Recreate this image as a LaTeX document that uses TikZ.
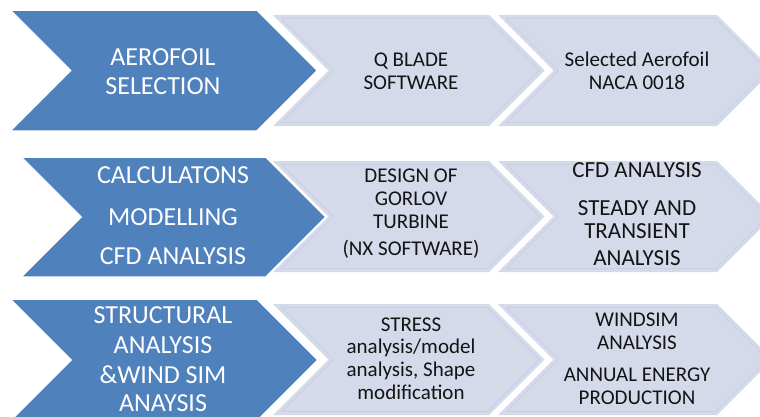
\documentclass[tikz,border=0pt]{standalone}
\usepackage{fontspec}
\setmainfont{Carlito}
\definecolor{stepblue}{HTML}{4F81BD}
\definecolor{steplight}{HTML}{D4DAEA}
\definecolor{stepedge}{HTML}{C9D0E2}
\begin{document}
\begin{tikzpicture}[x=1pt,y=-1pt,
  % 45-degree chevron: left x, shoulder x, top y, bottom y
  chev/.style n args={4}{insert path={(#1,#3) -- (#2,#3)
      -- ({#2+(#4-#3)/2},{(#3+#4)/2}) -- (#2,#4) -- (#1,#4)
      -- ({#1+(#4-#3)/2},{(#3+#4)/2}) -- cycle}},
  % the same chevron, inset by 3.5 units
  chevin/.style n args={4}{insert path={({#1+8.45},{#3+3.5}) -- ({#2-1.45},{#3+3.5})
      -- ({#2+(#4-#3)/2-4.95},{(#3+#4)/2}) -- ({#2-1.45},{#4-3.5}) -- ({#1+8.45},{#4-3.5})
      -- ({#1+(#4-#3)/2+4.95},{(#3+#4)/2}) -- cycle}},
  bluechev/.style={fill=stepblue, draw=white, line width=1.5pt, line join=miter},
  lightchev/.style={fill=steplight},
  lightedge/.style={draw=stepedge, line width=0.7pt},
  headtxt/.style={font=\fontsize{26}{30}\selectfont, text=white, anchor=base, inner sep=0pt},
  bodytxt/.style={font=\fontsize{21}{24}\selectfont, text=black!92, anchor=base, inner sep=0pt},
  bigtxt/.style={font=\fontsize{23}{26}\selectfont, text=black!92, anchor=base, inner sep=0pt}
]
\useasboundingbox (0,0) rectangle (760,416);
\clip (0,0) rectangle (760,416);

% light step chevrons
\foreach \t/\b in {15/126, 161/272, 304/415} {
  \fill[lightchev, chev={273}{489}{\t}{\b}];
  \draw[lightedge, chevin={273}{489}{\t}{\b}];
  \fill[lightchev, chev={498}{717}{\t}{\b}];
  \draw[lightedge, chevin={498}{717}{\t}{\b}];
}

% blue stage chevrons
\path[bluechev, chev={10}{257}{10}{131}];
\path[bluechev, chev={21}{266}{157}{277}];
\path[bluechev, chev={10}{257}{299}{421}];

% stage 1
\node[headtxt] (s1a) at (163,65) {AEROFOIL};
\node[headtxt] (s1b) at (163,94) {SELECTION};
\node[bodytxt] (q1a) at (411,66) {Q BLADE};
\node[bodytxt] (q1b) at (411,89) {SOFTWARE};
\node[bodytxt] (n1a) at (637,66) {Selected Aerofoil};
\node[bodytxt] (n1b) at (637,89) {NACA 0018};

% stage 2
\node[headtxt] (s2a) at (173,183) {CALCULATONS};
\node[headtxt] (s2b) at (173,225) {MODELLING};
\node[headtxt] (s2c) at (173,264) {CFD ANALYSIS};
\node[bodytxt] (d2a) at (411,182) {DESIGN OF};
\node[bodytxt] (d2b) at (411,205) {GORLOV};
\node[bodytxt] (d2c) at (411,228) {TURBINE};
\node[bodytxt] (d2d) at (411,255) {(NX SOFTWARE)};
\node[bigtxt] (c2a) at (637,177) {CFD ANALYSIS};
\node[bigtxt] (c2b) at (637,215) {STEADY AND};
\node[bigtxt] (c2c) at (637,238) {TRANSIENT};
\node[bigtxt] (c2d) at (637,265) {ANALYSIS};

% stage 3
\node[headtxt] (s3a) at (163,323) {STRUCTURAL};
\node[headtxt] (s3b) at (163,353) {ANALYSIS};
\node[headtxt] (s3c) at (163,383) {\&WIND SIM};
\node[headtxt] (s3d) at (163,411) {ANAYSIS};
\node[bodytxt] (r3a) at (411,331) {STRESS};
\node[bodytxt] (r3b) at (411,353) {analysis/model};
\node[bodytxt] (r3c) at (411,376) {analysis, Shape};
\node[bodytxt] (r3d) at (411,399) {modification};
\node[bodytxt] (w3a) at (637,326) {WINDSIM};
\node[bodytxt] (w3b) at (637,349) {ANALYSIS};
\node[bodytxt] (w3c) at (637,381) {ANNUAL ENERGY};
\node[bodytxt] (w3d) at (637,404) {PRODUCTION};
\end{tikzpicture}
\end{document}
